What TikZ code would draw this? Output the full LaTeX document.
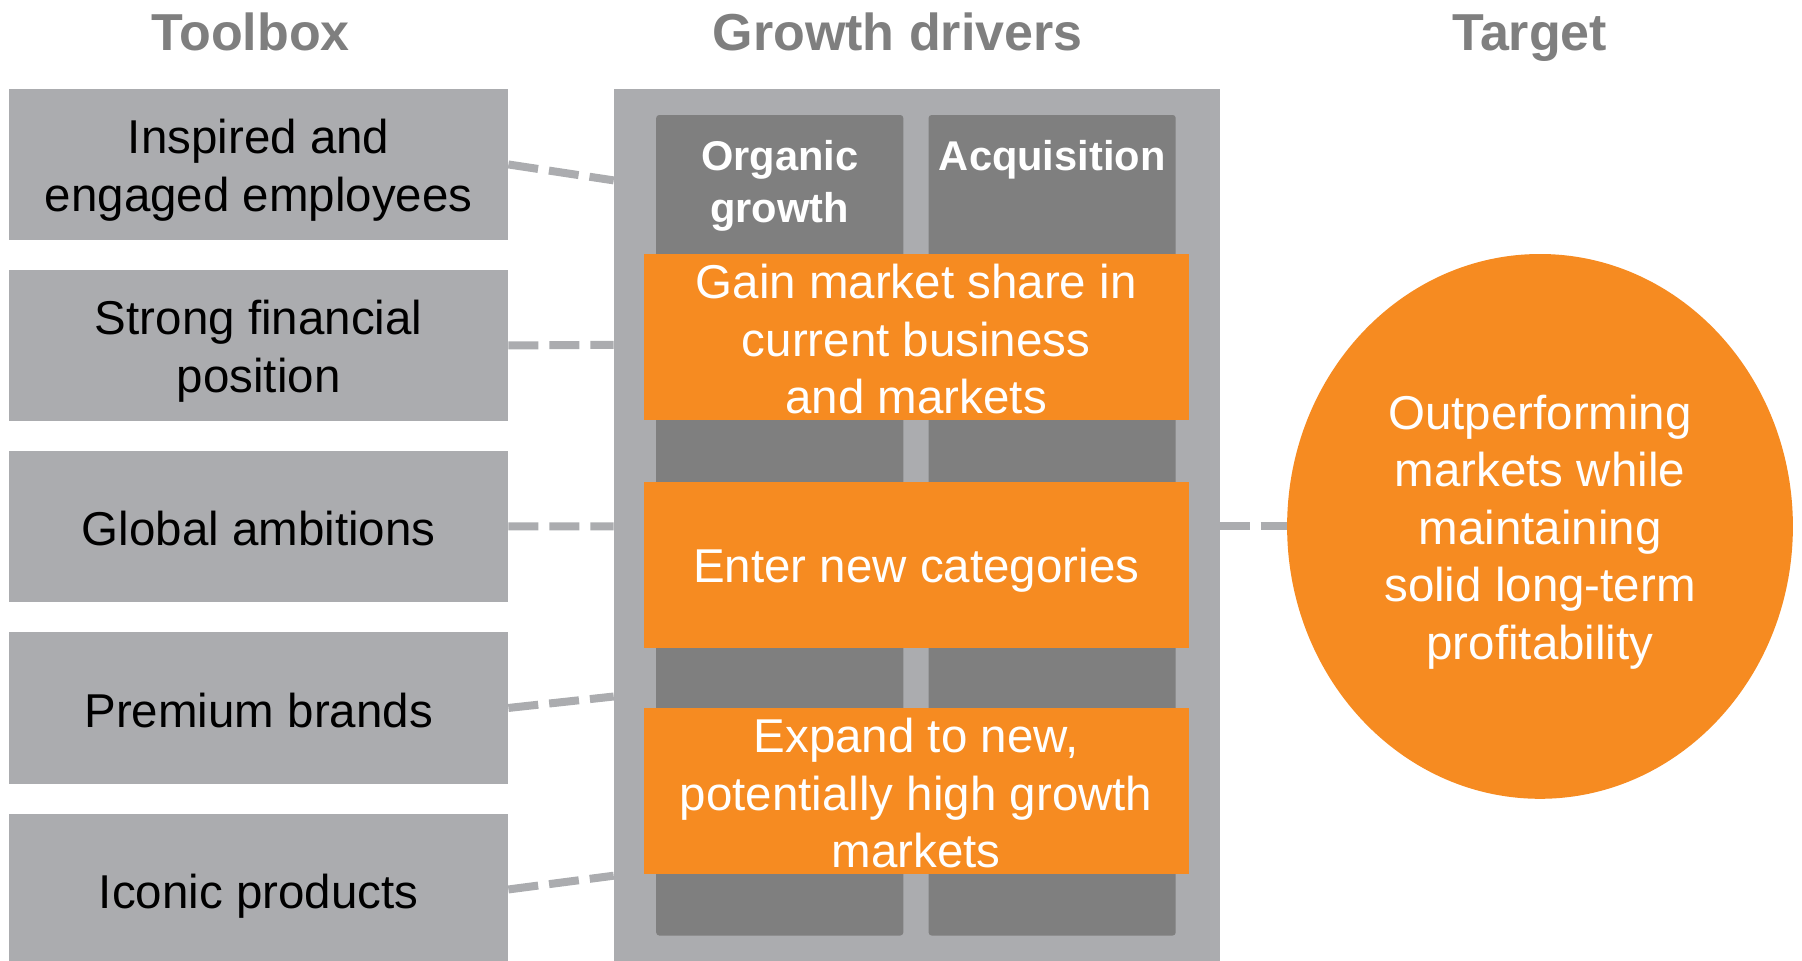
\documentclass[tikz,border=0pt]{standalone}
\usepackage{fontspec}
\setmainfont{Liberation Sans}
\usetikzlibrary{shapes.geometric}
\definecolor{lightgrey}{HTML}{ABACAF}
\definecolor{darkgrey}{HTML}{7F7F7F}
\definecolor{brandorange}{HTML}{F68B21}
\tikzset{
  body/.style={font=\fontsize{47.5}{57.5}\selectfont, align=center, inner sep=0pt},
  title/.style={font=\fontsize{52}{60}\selectfont\bfseries, text=darkgrey, anchor=base},
  toolbox/.style={fill=lightgrey, minimum width=499pt, minimum height=151.5pt,
    inner sep=0pt, anchor=north west},
  tbtext/.style={body, text=black},
  column/.style={fill=darkgrey, rounded corners=3pt},
  driver/.style={fill=brandorange, minimum width=544.7pt,
    minimum height=166pt, inner sep=0pt, anchor=north west},
  drtext/.style={body, text=white},
  colhead/.style={font=\fontsize{41.6}{52}\selectfont\bfseries, text=white, align=center},
  link/.style={draw=lightgrey, line width=8pt, dash pattern=on 30pt off 11pt}
}
\begin{document}
\begin{tikzpicture}[x=1pt,y=-1pt]
\useasboundingbox (0,0) rectangle (1802,961);
\clip (0,0) rectangle (1802,961);

% column titles
\node[title] (ttool) at (250.5,50.6) {Toolbox};
\node[title] (tgrowth) at (897.6,50.6) {Growth drivers};
\node[title] (ttarget) at (1529.6,50.6) {Target};

% toolbox
\node[toolbox] (tb1) at (9,88.5) {};
\node[toolbox] (tb2) at (9,269.5) {};
\node[toolbox] (tb3) at (9,450.5) {};
\node[toolbox] (tb4) at (9,632) {};
\node[toolbox] (tb5) at (9,813.5) {};
\node[tbtext] (tb1t) at ([yshift=-5.7pt]tb1.center) {Inspired and\\engaged employees};
\node[tbtext] (tb2t) at ([yshift=-5.7pt]tb2.center) {Strong financial\\position};
\node[tbtext] (tb3t) at ([yshift=-2.3pt]tb3.center) {Global ambitions};
\node[tbtext] (tb4t) at ([yshift=-2.3pt]tb4.center) {Premium brands};
\node[tbtext] (tb5t) at ([yshift=-6.9pt]tb5.center) {Iconic products};

% growth driver panel and its two columns
\node[fill=lightgrey, minimum width=605.6pt, minimum height=900pt, inner sep=0pt,
  anchor=north west] (panel) at (613.7,88.5) {};
\fill[column] (656.2,115) rectangle (903.3,935.5);
\fill[column] (928.6,115) rectangle (1175.7,935.5);
\node[colhead] (organic) at (779.7,185.6) {Organic\\growth};
\node[colhead] (acq) at (1052.2,159.6) {Acquisition};

% growth drivers
\node[driver] (d1) at (643.6,254) {};
\node[driver] (d2) at (643.6,481.5) {};
\node[driver] (d3) at (643.6,708) {};
\node[drtext] (d1t) at ([yshift=-2.3pt]d1.center) {Gain market share in\\current business\\and markets};
\node[drtext] (d2t) at ([yshift=-5.7pt]d2.center) {Enter new categories};
\node[drtext] (d3t) at ([yshift=-2.3pt]d3.center) {Expand to new,\\potentially high growth\\markets};

% target
\node[ellipse, fill=brandorange, minimum width=505.8pt,
  minimum height=544.8pt, inner sep=0pt] (target) at (1540,526.4) {};
\node[drtext] (targett) at ([yshift=-5.7pt]target.center)
  {Outperforming\\markets while\\maintaining\\solid long-term\\profitability};

% connectors
\coordinate (p1) at (613.7,180.4);
\coordinate (p2) at (613.7,344.8);
\coordinate (p3) at (613.7,526.4);
\coordinate (p4) at (613.7,696.5);
\coordinate (p5) at (613.7,875.7);
\draw[link] (tb1.east) -- (p1);
\draw[link] (tb2.east) -- (p2);
\draw[link] (tb3.east) -- (p3);
\draw[link] (tb4.east) -- (p4);
\draw[link] (tb5.east) -- (p5);
\draw[link] (panel.east |- target.west) -- (target.west);
\end{tikzpicture}
\end{document}
